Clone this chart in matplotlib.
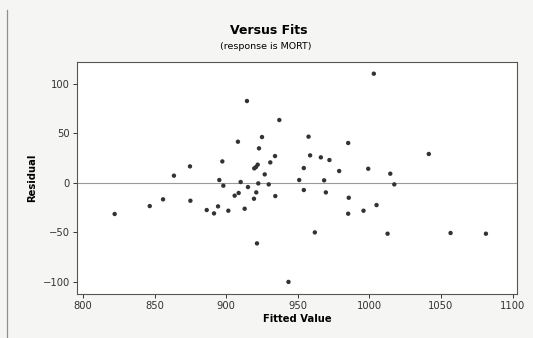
"""Minitab-style residuals versus fits plot."""

import matplotlib as mpl

mpl.use("Agg")
import matplotlib.pyplot as plt
from matplotlib.lines import Line2D

fitted = [
    822.1, 846.6, 855.9, 863.5, 874.7, 875.0, 886.4, 891.5, 894.3, 895.2,
    897.3, 898.0, 901.5, 905.9, 908.2, 908.7, 910.1, 912.9, 914.5, 915.2,
    919.4, 919.6, 921.0, 921.5, 922.0, 920.8, 922.9, 922.4, 925.0, 926.9,
    929.7, 930.8, 934.1, 934.3, 937.1, 943.5, 951.0, 1003.1, 957.5, 985.2,
    958.6, 966.1, 972.1, 1041.5, 954.2, 978.9, 999.2, 1014.6, 968.4, 1017.4,
    954.2, 969.6, 985.6, 1005.0, 985.2, 995.9, 961.9, 1012.7, 1056.7, 1081.4,
]
residual = [
    -31.6, -23.6, -16.8, 7.1, 16.5, -18.2, -27.6, -31.0, -23.9, 2.7,
    21.5, -3.0, -28.3, -13.1, 41.4, -10.4, 0.7, -26.3, 82.5, -4.4,
    -16.2, 14.5, -9.8, -61.3, 18.2, 15.8, 34.7, -0.7, 46.1, 8.4,
    -1.7, 20.5, 26.9, -13.5, 63.3, -100.2, 2.7, 110.1, 46.5, 40.1,
    27.6, 25.6, 22.9, 29.0, 14.8, 11.8, 14.1, 9.1, 2.4, -1.7,
    -7.4, -9.8, -15.2, -22.6, -31.3, -28.3, -50.2, -51.5, -50.8, -51.5,
]
x_ticks = [800, 850, 900, 950, 1000, 1050, 1100]
y_ticks = [-100, -50, 0, 50, 100]

fig = plt.figure(figsize=(5.33, 3.38), dpi=100)
fig.patch.set_facecolor("#f5f5f4")
# left edge of the graph region frame
fig.lines.append(Line2D([7 / 533, 7 / 533], [0, 0.97], transform=fig.transFigure,
                        color="#8f8f8f", linewidth=0.9))

ax = fig.add_axes([77 / 533, 1 - 294 / 338, 440 / 533, 232 / 338])
ax.set_facecolor("white")
ax.scatter(fitted, residual, s=10, color="#333333", edgecolors="none", zorder=3)
ax.axhline(0, color="#9a9a9a", linewidth=0.8, zorder=2)

ax.set_xlim(795.8, 1103.1)
ax.set_ylim(-112.4, 121.9)
ax.set_xticks(x_ticks)
ax.set_yticks(y_ticks)
ax.tick_params(direction="out", length=3, width=0.7, labelsize=7.2,
               colors="#333333", pad=2)
for side in ax.spines.values():
    side.set_color("#555555")
    side.set_linewidth(0.8)

ax.set_xlabel("Fitted Value", fontsize=7.2, fontweight="bold", labelpad=2)
ax.set_ylabel("Residual", fontsize=7.2, fontweight="bold", labelpad=4)

fig.text(0.505, 1 - 30.5 / 338, "Versus Fits", ha="center", va="center",
         fontsize=9, fontweight="bold")
fig.text(0.498, 1 - 46.5 / 338, "(response is MORT)", ha="center", va="center",
         fontsize=6.8)

fig.savefig("out.png", dpi=100, facecolor=fig.get_facecolor())
plt.close(fig)
